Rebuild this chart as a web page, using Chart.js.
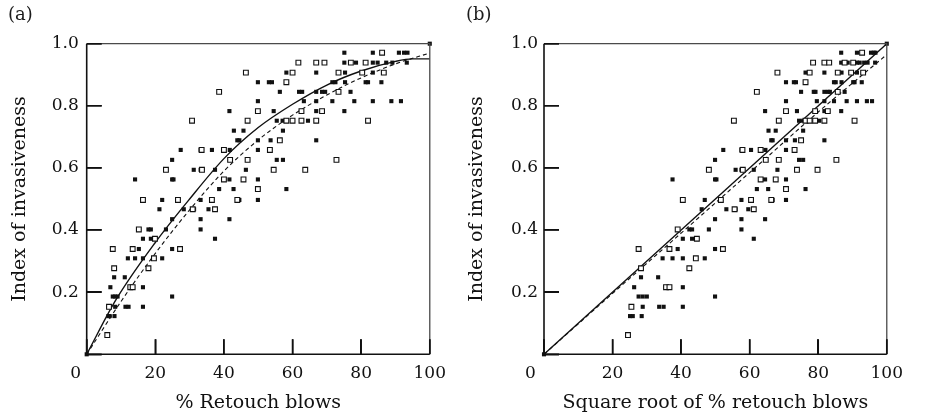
<!DOCTYPE html>
<html>
<head>
<meta charset="utf-8">
<script src="https://cdn.jsdelivr.net/npm/chart.js@4.4.1/dist/chart.umd.min.js"></script>
<style>
  html, body { margin: 0; padding: 0; background: #fff; }
  #wrap { position: relative; width: 927px; height: 416px; overflow: hidden; }
  canvas { position: absolute; top: 0; }
  #chartA { left: 0; }
  #chartB { left: 460px; }
  .tag { position: absolute; top: 3px; font: 18px "DejaVu Serif"; color: #1b1b1b; }
</style>
</head>
<body>
<div id="wrap">
  <canvas id="chartA" width="470" height="416"></canvas>
  <canvas id="chartB" width="467" height="416"></canvas>
  <div class="tag" style="left:8px">(a)</div>
  <div class="tag" style="left:466px">(b)</div>
</div>
<script>
// panel (a): index of invasiveness vs % retouch blows
const aFilled = [
  [75.1,.971],[83.4,.971],[91,.971],[92.5,.971],[93.5,.971],
  [75.1,.939],[78.5,.939],[83.4,.939],[84.8,.939],[87.3,.939],[89.1,.939],[93.3,.939],
  [58.2,.907],[66.9,.907],[75.3,.907],[83.4,.907],
  [49.9,.876],[53.1,.876],[54,.876],[71.6,.876],[72.5,.876],[75.3,.876],[81.3,.876],[82,.876],[85.9,.876],
  [56.3,.845],[61.9,.845],[62.8,.845],[66.9,.845],[68.6,.845],[69.5,.845],[76.9,.845],
  [49.9,.815],[63.3,.815],[66.9,.815],[71.6,.815],[78,.815],[83.4,.815],[88.8,.815],[91.6,.815],
  [41.6,.783],[54.5,.783],[66.9,.783],[75.1,.783],
  [55.4,.752],[57.1,.752],[64.5,.752],
  [42.9,.72],[45.7,.72],[57.2,.72],
  [43.9,.689],[44.5,.689],[49.9,.689],[53.6,.689],[66.9,.689],
  [27.4,.658],[33.2,.658],[36.5,.658],[41.7,.658],[49.9,.658],
  [24.9,.626],[55.4,.626],[57.2,.626],
  [31.2,.594],[33.2,.594],[37.4,.594],[46.4,.594],
  [14.1,.563],[24.9,.563],[25.3,.563],[41.6,.563],[49.9,.563],
  [38.6,.532],[42.8,.532],[58.2,.532],
  [22,.497],[33.2,.497],[44.5,.497],[49.9,.497],
  [21.2,.467],[28.3,.467],[31.3,.467],[35.5,.467],
  [24.9,.435],[33.2,.435],[41.6,.435],
  [18,.402],[18.7,.402],[23.1,.402],[33.2,.402],
  [16.4,.372],[18.7,.372],[37.4,.372],
  [15.2,.339],[24.9,.339],
  [12,.309],[14.1,.309],[16.4,.309],[22,.309],
  [8,.248],[11.1,.248],
  [6.9,.216],[16.4,.216],
  [7.6,.186],[8.3,.186],[9,.186],[24.9,.186],
  [8.3,.153],[11.3,.153],[12.2,.153],[16.4,.153],
  [6.3,.123],[6.7,.123],[8.1,.123],
  [0,0],[100,1]
];
const aOpen = [
  [86.1,.971],
  [61.7,.939],[66.9,.939],[69.3,.939],[77,.939],[81.3,.939],
  [46.4,.907],[60,.907],[73.4,.907],[80.3,.907],[86.6,.907],
  [58.2,.876],
  [38.6,.845],[73.4,.845],
  [49.9,.783],[62.6,.783],[68.6,.783],
  [30.7,.752],[46.9,.752],[58.2,.752],[60,.752],[62.6,.752],[66.9,.752],[82,.752],
  [56.3,.689],
  [33.5,.658],[40,.658],[53.4,.658],
  [41.8,.626],[46.9,.626],[72.8,.626],
  [23.1,.594],[33.6,.594],[54.5,.594],[63.7,.594],
  [40,.563],[45.7,.563],
  [49.9,.532],
  [16.4,.497],[26.6,.497],[36.5,.497],[43.9,.497],
  [30.9,.467],[37.4,.467],
  [15.2,.402],
  [19.9,.372],
  [7.6,.339],[13.4,.339],[27.2,.339],
  [19.6,.309],
  [8,.277],[18,.277],
  [12.7,.216],[13.4,.216],
  [6.5,.153],
  [6,.062]
];
const aSolidX = [0, 8.5, 20, 30, 40, 50, 60, 70, 80, 90, 95, 100];
const aSolidY = [0, .175, .36, .5, .63, .73, .805, .867, .912, .943, .951, .951];
const aDashX = [0, 10, 20, 30, 40, 50, 60, 70, 80, 90, 100];
const aDashY = [0, .17, .325, .465, .59, .69, .77, .835, .89, .935, .97];

// panel (b): same index vs square root of % retouch blows
const bFilled = [
  [86.7,.971],[91.3,.971],[95.4,.971],[96.2,.971],[96.7,.971],
  [86.7,.939],[88.6,.939],[91.3,.939],[92.1,.939],[93.4,.939],[94.4,.939],[96.6,.939],
  [76.3,.907],[81.8,.907],[86.8,.907],[91.3,.907],
  [70.6,.876],[72.9,.876],[73.5,.876],[84.6,.876],[85.1,.876],[86.8,.876],[90.2,.876],[90.6,.876],[92.7,.876],
  [75.0,.845],[78.7,.845],[79.2,.845],[81.8,.845],[82.8,.845],[83.4,.845],[87.7,.845],
  [70.6,.815],[79.6,.815],[81.8,.815],[84.6,.815],[88.3,.815],[91.3,.815],[94.2,.815],[95.7,.815],
  [64.5,.783],[73.8,.783],[81.8,.783],[86.7,.783],
  [74.4,.752],[75.6,.752],[80.3,.752],
  [65.5,.72],[67.6,.72],[75.6,.72],
  [66.3,.689],[66.7,.689],[70.6,.689],[73.2,.689],[81.8,.689],
  [52.3,.658],[57.6,.658],[60.4,.658],[64.6,.658],[70.6,.658],
  [49.9,.626],[74.4,.626],[75.6,.626],
  [55.9,.594],[57.6,.594],[61.2,.594],[68.1,.594],
  [37.5,.563],[49.9,.563],[50.3,.563],[64.5,.563],[70.6,.563],
  [62.1,.532],[65.4,.532],[76.3,.532],
  [46.9,.497],[57.6,.497],[66.7,.497],[70.6,.497],
  [46.0,.467],[53.2,.467],[55.9,.467],[59.6,.467],
  [49.9,.435],[57.6,.435],[64.5,.435],
  [42.4,.402],[43.2,.402],[48.1,.402],[57.6,.402],
  [40.5,.372],[43.2,.372],[61.2,.372],
  [39.0,.339],[49.9,.339],
  [34.6,.309],[37.5,.309],[40.5,.309],[46.9,.309],
  [28.3,.248],[33.3,.248],
  [26.3,.216],[40.5,.216],
  [27.6,.186],[28.8,.186],[30.0,.186],[49.9,.186],
  [28.8,.153],[33.6,.153],[34.9,.153],[40.5,.153],
  [25.1,.123],[25.9,.123],[28.5,.123],
  [0,0],[100,1]
];
const bOpen = [
  [92.8,.971],
  [78.5,.939],[81.8,.939],[83.2,.939],[87.7,.939],[90.2,.939],
  [68.1,.907],[77.5,.907],[85.7,.907],[89.6,.907],[93.1,.907],
  [76.3,.876],
  [62.1,.845],[85.7,.845],
  [70.6,.783],[79.1,.783],[82.8,.783],
  [55.4,.752],[68.5,.752],[76.3,.752],[77.5,.752],[79.1,.752],[81.8,.752],[90.6,.752],
  [75.0,.689],
  [57.9,.658],[63.2,.658],[73.1,.658],
  [64.7,.626],[68.5,.626],[85.3,.626],
  [48.1,.594],[58.0,.594],[73.8,.594],[79.8,.594],
  [63.2,.563],[67.6,.563],
  [70.6,.532],
  [40.5,.497],[51.6,.497],[60.4,.497],[66.3,.497],
  [55.6,.467],[61.2,.467],
  [39.0,.402],
  [44.6,.372],
  [27.6,.339],[36.6,.339],[52.2,.339],
  [44.3,.309],
  [28.3,.277],[42.4,.277],
  [35.6,.216],[36.6,.216],
  [25.5,.153],
  [24.5,.062]
];
const bSolidX = [0, 100];
const bSolidY = [0, 1];
const bDashX = [0, 20, 40, 60, 80, 100];
const bDashY = [0, .196, .39, .585, .78, .965];

const xTicks = [0, 20, 40, 60, 80, 100];
const yTicks = [0, 0.2, 0.4, 0.6, 0.8, 1.0];

const ink = '#111';
const tickFont = { family: 'DejaVu Serif', size: 17 };
const titleFont = { family: 'DejaVu Serif', size: 19 };
const TICK = 15; // inward tick length

const toPts = (xs, ys) => xs.map((x, i) => ({ x: x, y: ys[i] }));
const fromPairs = arr => arr.map(p => ({ x: p[0], y: p[1] }));

// box round the plot, inward tick marks and the "0" label set off to the left
const framePlugin = {
  id: 'frame',
  afterDraw(chart, args, opts) {
    const ctx = chart.ctx;
    const a = chart.chartArea;
    const xs = chart.scales.x, ys = chart.scales.y;
    ctx.save();
    ctx.setLineDash([]);
    ctx.strokeStyle = '#4a4a4a';
    ctx.lineWidth = 1.3;
    ctx.beginPath();
    ctx.moveTo(a.left, a.top); ctx.lineTo(a.right, a.top); ctx.lineTo(a.right, a.bottom);
    ctx.stroke();
    ctx.strokeStyle = ink;
    ctx.lineWidth = 1.6;
    ctx.beginPath();
    ctx.moveTo(a.left, a.top); ctx.lineTo(a.left, a.bottom); ctx.lineTo(a.right, a.bottom);
    ctx.stroke();
    ctx.lineWidth = 1.6;
    ctx.beginPath();
    for (const v of xTicks) {
      const px = xs.getPixelForValue(v);
      ctx.moveTo(px, a.bottom);
      ctx.lineTo(px, a.bottom - TICK);
    }
    for (const v of yTicks) {
      const py = ys.getPixelForValue(v);
      ctx.moveTo(a.left, py);
      ctx.lineTo(a.left + TICK, py);
    }
    ctx.stroke();
    ctx.fillStyle = ink;
    ctx.font = '17px "DejaVu Serif"';
    ctx.textAlign = 'center';
    ctx.textBaseline = 'middle';
    ctx.fillText('0', xs.getPixelForValue(0) - opts.zeroShift, a.bottom + 9 + 10.2);
    ctx.restore();
  }
};

function makeChart(id, filled, open, solid, dashed, xTitle, box) {
  const lineStyle = { showLine: true, pointRadius: 0, borderColor: ink, fill: false,
    cubicInterpolationMode: 'monotone', clip: false };
  // negative tickLength makes Chart.js draw its tick marks inside the plot
  const innerGrid = { display: true, drawOnChartArea: false, drawTicks: true,
    tickLength: -TICK, color: ink, lineWidth: 1.5 };
  new Chart(document.getElementById(id), {
    type: 'scatter',
    data: {
      datasets: [
        { data: fromPairs(open), pointStyle: 'rect', pointRadius: 3.4, backgroundColor: '#fff',
          borderColor: ink, borderWidth: 1.1, clip: false },
        { data: fromPairs(filled), pointStyle: 'rect', pointRadius: 2.9, backgroundColor: ink,
          borderWidth: 0, clip: false },
        Object.assign({ data: solid, borderWidth: 1.4 }, lineStyle),
        Object.assign({ data: dashed, borderWidth: 1.1, borderDash: [4, 3] }, lineStyle)
      ]
    },
    options: {
      responsive: false,
      animation: false,
      devicePixelRatio: 1,
      layout: { padding: { top: 43.7, right: box.right, bottom: 0, left: 0 } },
      plugins: { legend: { display: false }, tooltip: { enabled: false },
                 frame: { zeroShift: box.zeroShift } },
      scales: {
        x: {
          type: 'linear', min: 0, max: 100,
          afterFit: s => { s.height = 416 - 354.3; },
          border: { display: false },
          grid: innerGrid,
          afterBuildTicks: s => { s.ticks = xTicks.map(v => ({ value: v })); },
          ticks: { padding: 9 + TICK, font: tickFont, color: ink, maxRotation: 0, autoSkip: false,
                   callback: v => v === 0 ? '' : String(v) },
          title: { display: true, text: xTitle, font: titleFont, color: ink,
                   padding: { top: 0, bottom: 1.6 } }
        },
        y: {
          min: 0, max: 1,
          afterFit: s => { s.width = box.left; },
          border: { display: false },
          grid: innerGrid,
          afterBuildTicks: s => { s.ticks = yTicks.map(v => ({ value: v })); },
          ticks: { padding: box.yPad + TICK, font: tickFont, color: ink,
                   callback: v => v === 0 ? '' : v.toFixed(1) },
          title: { display: true, text: 'Index of invasiveness', font: titleFont, color: ink,
                   padding: { top: box.titlePad, bottom: 0 } }
        }
      }
    },
    plugins: [framePlugin]
  });
}

makeChart('chartA', aFilled, aOpen, toPts(aSolidX, aSolidY), toPts(aDashX, aDashY),
  '% Retouch blows', { left: 86.7, right: 470 - 447.7, yPad: 8, titlePad: 9, zeroShift: 11 });
makeChart('chartB', bFilled, bOpen, toPts(bSolidX, bSolidY), toPts(bDashX, bDashY),
  'Square root of % retouch blows', { left: 84, right: 467 - 448.3, yPad: 6, titlePad: 5.3, zeroShift: 13.5 });
</script>
</body>
</html>
